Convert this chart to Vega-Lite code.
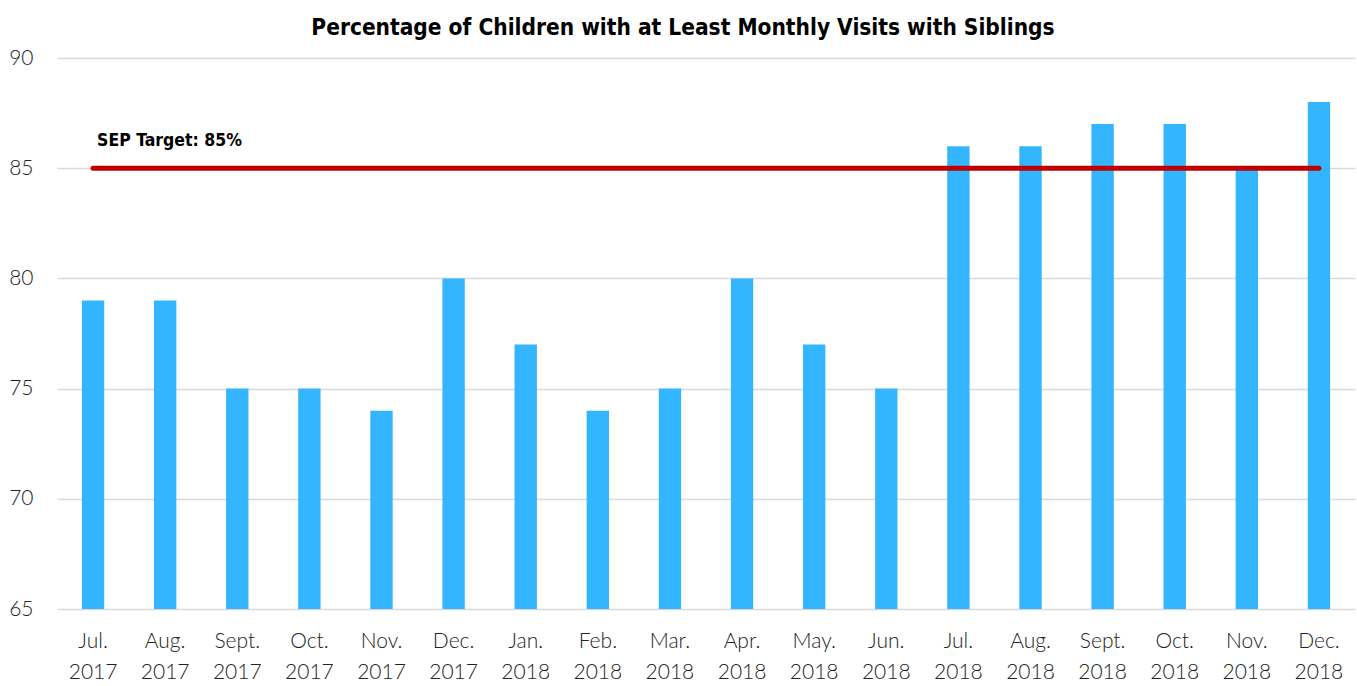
{
  "$schema": "https://vega.github.io/schema/vega-lite/v6.json",
  "width": 1298,
  "height": 551,
  "autosize": {"type": "none"},
  "padding": {"left": 57, "top": 58, "right": 2, "bottom": 77},
  "background": "white",
  "view": {"stroke": null},
  "title": {
    "text": "Percentage of Children with at Least Monthly Visits with Siblings",
    "font": "'DejaVu Sans Condensed', Roboto",
    "fontWeight": "bold",
    "fontSize": 22.5,
    "color": "#000000",
    "anchor": "middle",
    "dx": -23,
    "baseline": "alphabetic",
    "offset": -10
  },
  "datasets": {
    "visits": [
      {"month": "Jul. 2017", "pct": 79},
      {"month": "Aug. 2017", "pct": 79},
      {"month": "Sept. 2017", "pct": 75},
      {"month": "Oct. 2017", "pct": 75},
      {"month": "Nov. 2017", "pct": 74},
      {"month": "Dec. 2017", "pct": 80},
      {"month": "Jan. 2018", "pct": 77},
      {"month": "Feb. 2018", "pct": 74},
      {"month": "Mar. 2018", "pct": 75},
      {"month": "Apr. 2018", "pct": 80},
      {"month": "May. 2018", "pct": 77},
      {"month": "Jun. 2018", "pct": 75},
      {"month": "Jul. 2018", "pct": 86},
      {"month": "Aug. 2018", "pct": 86},
      {"month": "Sept. 2018", "pct": 87},
      {"month": "Oct. 2018", "pct": 87},
      {"month": "Nov. 2018", "pct": 85},
      {"month": "Dec. 2018", "pct": 88}
    ],
    "label": [
      {"month": "Jul. 2017", "target": 85, "text": "SEP Target: 85%"}
    ]
  },
  "data": {"name": "visits"},
  "encoding": {
    "x": {
      "field": "month",
      "type": "nominal",
      "sort": null,
      "scale": {"paddingInner": 0.69, "paddingOuter": 0.345},
      "axis": {
        "title": null,
        "domain": false,
        "ticks": false,
        "labelAngle": 0,
        "labelExpr": "split(datum.value, ' ')",
        "labelFont": "Lato",
        "labelFontWeight": 300,
        "labelFontSize": 21,
        "labelColor": "#222222",
        "labelPadding": 21,
        "labelLineHeight": 31
      }
    }
  },
  "layer": [
    {
      "mark": {"type": "bar", "color": "#33B5FF", "clip": true},
      "encoding": {
        "y": {
          "field": "pct",
          "type": "quantitative",
          "scale": {"domain": [65, 90], "zero": false, "nice": false},
          "axis": {
            "title": null,
            "domain": false,
            "ticks": false,
            "values": [65, 70, 75, 80, 85, 90],
            "labelFont": "Lato",
            "labelFontWeight": 300,
            "labelFontSize": 21,
            "labelColor": "#222222",
            "labelPadding": 24,
            "gridColor": "#D9D9D9",
            "gridWidth": 1.5
          }
        }
      }
    },
    {
      "mark": {"type": "line", "color": "#C00000", "strokeWidth": 5, "strokeCap": "round"},
      "encoding": {
        "y": {"datum": 85}
      }
    },
    {
      "data": {"name": "label"},
      "mark": {
        "type": "text",
        "align": "left",
        "baseline": "middle",
        "dx": 4,
        "dy": -27,
        "font": "'DejaVu Sans Condensed', Roboto",
        "fontWeight": "bold",
        "fontSize": 17.5,
        "color": "#000000"
      },
      "encoding": {
        "y": {"field": "target", "type": "quantitative"},
        "text": {"field": "text"}
      }
    }
  ]
}
